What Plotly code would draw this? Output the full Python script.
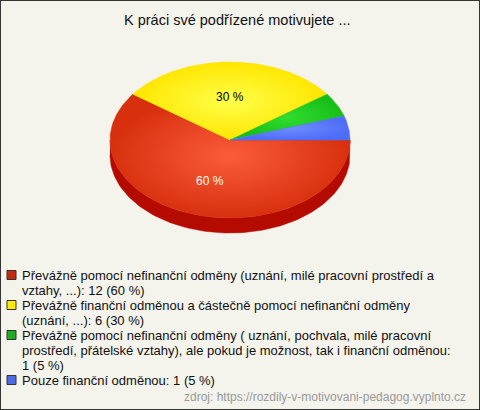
import numpy as np
import plotly.graph_objects as go

title = "K práci své podřízené motivujete ..."
categories = [
    "Převážně pomocí nefinanční odměny (uznání, milé pracovní prostředí a vztahy, ...)",
    "Převážně finanční odměnou a částečně pomocí nefinanční odměny (uznání, ...)",
    "Převážně pomocí nefinanční odměny ( uznání, pochvala, milé pracovní prostředí, přátelské vztahy), ale pokud je možnost, tak i finanční odměnou",
    "Pouze finanční odměnou",
]
counts = [12, 6, 1, 1]
# legend text as it wraps in the original picture
legend_lines = [
    ["Převážně pomocí nefinanční odměny (uznání, milé pracovní prostředí a",
     "vztahy, ...): {n} ({p} %)"],
    ["Převážně finanční odměnou a částečně pomocí nefinanční odměny",
     "(uznání, ...): {n} ({p} %)"],
    ["Převážně pomocí nefinanční odměny ( uznání, pochvala, milé pracovní",
     "prostředí, přátelské vztahy), ale pokud je možnost, tak i finanční odměnou:",
     "{n} ({p} %)"],
    ["Pouze finanční odměnou: {n} ({p} %)"],
]
source = "zdroj: https://rozdily-v-motivovani-pedagog.vyplnto.cz"

top_colors = [
    [[0, "#FA5C3A"], [1, "#D8300F"]],
    [[0, "#FFFF4A"], [1, "#FFE600"]],
    [[0, "#30DD30"], [1, "#18BE18"]],
    [[0, "#6E8CFF"], [1, "#4E6EF8"]],
]
rim_colors = ["#B40A00", "#C8B400", "#0E8E0E", "#2E48C0"]
legend_colors = ["#C42A12", "#FFEA00", "#1FAE1F", "#4A6AE6"]
label_colors = ["white", "black", "black", "black"]

W, H = 480, 410
cx, cy, rx, ry, depth = 230, 140, 120, 78, 15
bg = "#F4F3EC"

total = sum(counts)
fracs = [c / total for c in counts]
pcts = [round(f * 100) for f in fracs]


def ell(a, dy=0):
    return cx + rx * np.cos(a), cy - ry * np.sin(a) + dy


fig = go.Figure()

# slices start at 3 o'clock and run clockwise
start = 0.0
spans = []
for f in fracs:
    a1 = start
    a0 = start - f * 2 * np.pi
    spans.append((a0, a1))
    start = a0

# front rim (visible where sin(angle) < 0)
for i, (a0, a1) in enumerate(spans):
    for k in (0, -1):
        lo = max(a0, -np.pi + k * 2 * np.pi)
        hi = min(a1, 0 + k * 2 * np.pi)
        if hi <= lo:
            continue
        t = np.linspace(lo, hi, 120)
        x1, y1 = ell(t)
        x2, y2 = ell(t[::-1], depth)
        fig.add_trace(go.Scatter(
            x=np.concatenate([x1, x2]), y=np.concatenate([y1, y2]),
            fill="toself", fillcolor=rim_colors[i], mode="lines",
            line=dict(width=0.5, color=rim_colors[i]),
            hoverinfo="skip", showlegend=False))

# top surface
for i, (a0, a1) in enumerate(spans):
    t = np.linspace(a0, a1, 200)
    ex, ey = ell(t)
    xs = np.concatenate([[cx], ex, [cx]])
    ys = np.concatenate([[cy], ey, [cy]])
    fig.add_trace(go.Scatter(
        x=xs, y=ys, fill="toself", mode="lines",
        fillcolor=top_colors[i][1][1],
        fillgradient=dict(type="radial", colorscale=top_colors[i]),
        line=dict(width=0.5, color=top_colors[i][1][1]),
        name=categories[i], hoverinfo="name", showlegend=False))

# percentage labels
for i, (a0, a1) in enumerate(spans):
    if pcts[i] < 10:
        continue
    am = (a0 + a1) / 2
    lx, ly = cx + 0.55 * rx * np.cos(am), cy - 0.55 * ry * np.sin(am)
    fig.add_annotation(x=lx, y=ly, xref="x", yref="y", text=f"{pcts[i]} %",
                       showarrow=False,
                       font=dict(family="Liberation Sans", size=12, color=label_colors[i]))

# legend
line_y = 275
for i, lines in enumerate(legend_lines):
    fig.add_shape(type="rect", xref="x", yref="y",
                  x0=7, x1=16, y0=line_y - 4.5, y1=line_y + 4.5,
                  fillcolor=legend_colors[i], line=dict(color="#333333", width=1))
    for ln in lines:
        fig.add_annotation(x=20, y=line_y, xref="x", yref="y",
                           text=ln.format(n=counts[i], p=pcts[i]),
                           xanchor="left", yanchor="middle", showarrow=False,
                           font=dict(family="Liberation Sans", size=13, color="#111111"))
        line_y += 15

fig.add_annotation(x=468, y=397, xref="x", yref="y", text=source,
                   xanchor="right", yanchor="middle", showarrow=False,
                   font=dict(family="Liberation Sans", size=12, color="#9A9A9A"))

fig.add_annotation(x=237, y=20, xref="x", yref="y", text=title,
                   xanchor="center", yanchor="middle", showarrow=False,
                   font=dict(family="Liberation Sans", size=14.5, color="#111111"))

fig.add_shape(type="rect", xref="paper", yref="paper", x0=0, x1=1, y0=0, y1=1,
              line=dict(color="#333333", width=2))

fig.update_layout(
    width=W, height=H,
    margin=dict(l=0, r=0, t=0, b=0),
    paper_bgcolor=bg, plot_bgcolor=bg,
    xaxis=dict(range=[0, W], visible=False, fixedrange=True),
    yaxis=dict(range=[H, 0], visible=False, fixedrange=True),
    showlegend=False,
)

fig.write_html("out.html", config={"displayModeBar": False},
               post_script="document.body.style.margin='0';")
